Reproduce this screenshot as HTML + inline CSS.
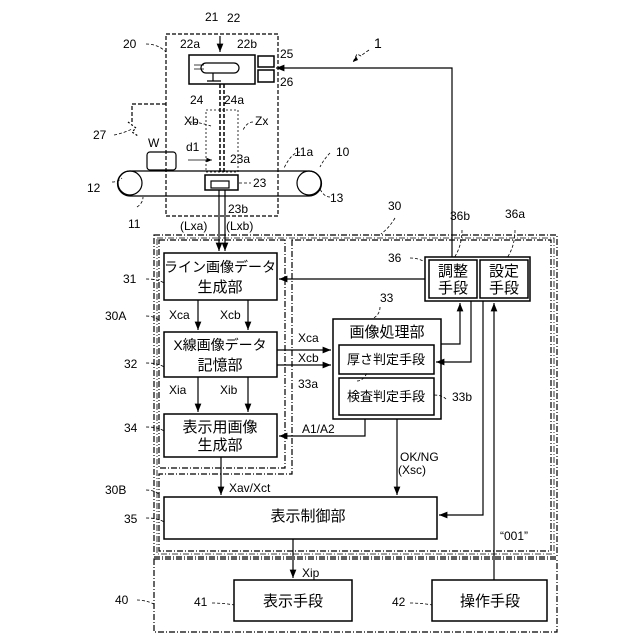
<!DOCTYPE html>
<html><head><meta charset="utf-8"><style>
html,body{margin:0;padding:0;background:#fff}
svg{display:block}
text{font-family:"Liberation Sans","Noto Sans CJK JP",sans-serif;fill:#000}
.j{font-size:15px}
.s{font-size:12px}
</style></head><body>
<svg width="640" height="640" viewBox="0 0 640 640" xmlns="http://www.w3.org/2000/svg">
<defs><marker id="a" viewBox="0 0 10 10" refX="10" refY="5" markerWidth="7" markerHeight="7" orient="auto"><path d="M0,1 L10,5 L0,9 z" fill="#000"/></marker></defs>
<g fill="none" stroke="#000" stroke-width="1.2">
<rect x="166" y="34" width="112" height="182" stroke-dasharray="4,2"/>
<rect x="189" y="55" width="66" height="29" stroke-width="1.5"/>
<path d="M206,63 h28 a5,5 0 0 1 0,10 h-28 a5,5 0 0 1 0,-10z"/>
<path d="M213,73 v8 M207,81 h14" />
<path d="M194,65 h10 M194,69 h10" stroke-width="0.8"/>
<rect x="258" y="56" width="16" height="11" stroke-width="1.5"/>
<rect x="258" y="70" width="16" height="12" stroke-width="1.5"/>
<path d="M220,84 V172 M224,84 V172" stroke-dasharray="4,2" stroke-width="1.5"/>
<rect x="206" y="110" width="32" height="62" stroke-dasharray="2,2" stroke-width="0.8"/>
<path d="M220,36 V52" marker-end="url(#a)"/>
<path d="M452,257 V68 H276" marker-end="url(#a)"/>
<path d="M166,104 H132 V122" stroke-dasharray="4,2"/>
<path d="M128,122 l8,6 l-4,4 l6,4" stroke-dasharray="2,2"/>
<path d="M130,171 H309 A12.5,12.5 0 0 1 309,196 H130 A12.5,12.5 0 0 1 130,171z"/>
<circle cx="130" cy="183" r="12"/>
<circle cx="309" cy="183" r="12"/>
<rect x="147" y="152" width="29" height="18" rx="3"/>
<rect x="205" y="175" width="33" height="15" stroke-width="1.5"/>
<rect x="211" y="181" width="18" height="7"/>
<path d="M188,160 H212" stroke-width="0.8" marker-end="url(#a)"/>
<path d="M219,190 V251" marker-end="url(#a)"/>
<path d="M225,190 V251" marker-end="url(#a)"/>
<rect x="154" y="235" width="403" height="322" stroke-dasharray="6,2,1,2"/>
<rect x="157" y="238" width="397" height="316" stroke-dasharray="6,2,1,2" stroke-width="0.8"/>
<rect x="159" y="240" width="126" height="228" stroke-dasharray="6,2,1,2"/>
<path d="M292,240 V474 H159 V551 H551 V240 Z" stroke-dasharray="6,2,1,2"/>
<rect x="154" y="559" width="403" height="73" stroke-dasharray="6,2,1,2"/>
<rect x="164" y="253" width="113" height="47" stroke-width="1.5"/>
<rect x="164" y="332" width="113" height="45" stroke-width="1.5"/>
<rect x="164" y="414" width="113" height="43" stroke-width="1.5"/>
<rect x="333" y="319" width="108" height="100" stroke-width="1.5"/>
<rect x="339" y="345" width="95" height="29" stroke-width="1.5"/>
<rect x="339" y="378" width="95" height="37" stroke-width="1.5"/>
<rect x="425" y="257" width="105" height="44" stroke-width="1.5"/>
<rect x="429" y="260" width="48" height="38" stroke-width="1.5"/>
<rect x="480" y="260" width="48" height="38" stroke-width="1.5"/>
<rect x="164" y="497" width="273" height="42" stroke-width="1.5"/>
<rect x="234" y="580" width="118" height="41" stroke-width="1.5"/>
<rect x="432" y="580" width="115" height="41" stroke-width="1.5"/>
<path d="M198,300 V330" marker-end="url(#a)"/>
<path d="M248,300 V330" marker-end="url(#a)"/>
<path d="M198,377 V412" marker-end="url(#a)"/>
<path d="M248,377 V412" marker-end="url(#a)"/>
<path d="M277,350 H331" marker-end="url(#a)"/>
<path d="M277,365 H331" marker-end="url(#a)"/>
<path d="M425,279 H279" marker-end="url(#a)"/>
<path d="M441,344 H460 V303" marker-end="url(#a)"/>
<path d="M471,301 V362 H436" marker-end="url(#a)"/>
<path d="M483,301 V515 H439" marker-end="url(#a)"/>
<path d="M494,580 V303" marker-end="url(#a)"/>
<path d="M365,419 V436 H279" marker-end="url(#a)"/>
<path d="M397,419 V495" marker-end="url(#a)"/>
<path d="M221,457 V495" marker-end="url(#a)"/>
<path d="M293,539 V578" marker-end="url(#a)"/>
<path d="M369,50 q-6,4 -8,6 l-4,-2 l-4,8" stroke-width="0.8" stroke-dasharray="3,2"/>
<path d="M353,62 l5,-2 l-2,-4 z" fill="#000" stroke="none"/>
<g stroke-width="0.8" stroke-dasharray="3,2">
<path d="M146,44 q12,0 20,8"/><path d="M146,279 q12,0 18,4"/><path d="M146,316 q8,0 13,4"/>
<path d="M146,363 q12,0 18,4"/><path d="M146,427 q12,0 18,4"/><path d="M146,490 q8,0 13,4"/>
<path d="M146,518 q12,0 18,4"/><path d="M137,600 q8,0 17,4"/>
<path d="M212,603 q12,0 22,2"/><path d="M410,603 q12,0 22,2"/>
<path d="M410,258 q8,0 15,4"/><path d="M357,381 q6,0 10,-8"/><path d="M434,395 q8,0 12,4"/>
<path d="M380,307 q0,8 -8,12"/><path d="M462,230 q0,16 -8,28"/><path d="M515,230 q0,16 -8,28"/>
<path d="M395,218 q-6,10 -14,16"/>
<path d="M239,183 h12"/><path d="M112,182 q6,0 10,-4"/><path d="M137,207 q6,-4 6,-10"/>
<path d="M300,152 q-8,0 -16,16"/><path d="M330,153 q-6,6 -10,14"/><path d="M330,197 q-6,0 -10,-8"/>
<path d="M114,135 q10,-2 18,-6"/><path d="M189,122 q10,0 22,4"/><path d="M253,122 q-6,0 -10,8"/>
</g>
</g>
<g class="s">
<text x="205" y="21">21</text><text x="227" y="22">22</text>
<text x="180" y="48">22a</text><text x="237" y="48">22b</text>
<text x="280" y="58">25</text><text x="280" y="86">26</text>
<text x="190" y="104">24</text><text x="224" y="104">24a</text>
<text x="123" y="48">20</text><text x="374" y="48" font-size="14">1</text>
<text x="184" y="125">Xb</text><text x="255" y="125">Zx</text>
<text x="93" y="139">27</text><text x="148" y="147">W</text>
<text x="186" y="151">d1</text><text x="230" y="163">23a</text>
<text x="294" y="156">11a</text><text x="336" y="156">10</text>
<text x="253" y="187">23</text><text x="87" y="192">12</text><text x="330" y="202">13</text>
<text x="228" y="213">23b</text><text x="128" y="228">11</text>
<text x="180" y="230">(Lxa)</text><text x="226" y="230">(Lxb)</text>
<text x="388" y="210">30</text><text x="450" y="220">36b</text><text x="505" y="218">36a</text>
<text x="388" y="262">36</text><text x="123" y="283">31</text><text x="105" y="320">30A</text>
<text x="380" y="302">33</text><text x="124" y="368">32</text>
<text x="169" y="319">Xca</text><text x="220" y="319">Xcb</text>
<text x="298" y="342">Xca</text><text x="298" y="362">Xcb</text>
<text x="298" y="388">33a</text><text x="452" y="401">33b</text>
<text x="169" y="394">Xia</text><text x="220" y="394">Xib</text>
<text x="124" y="432">34</text><text x="302" y="433">A1/A2</text>
<text x="400" y="461">OK/NG</text><text x="398" y="474">(Xsc)</text>
<text x="105" y="494">30B</text><text x="229" y="492">Xav/Xct</text>
<text x="124" y="523">35</text><text x="500" y="540">“001”</text>
<text x="302" y="577">Xip</text><text x="115" y="604">40</text>
<text x="194" y="606">41</text><text x="392" y="606">42</text>
</g>
<g class="j">
<text x="220" y="272" text-anchor="middle" font-size="14">ライン画像データ</text>
<text x="220" y="292" text-anchor="middle">生成部</text>
<text x="220" y="350" text-anchor="middle" font-size="14">X線画像データ</text>
<text x="220" y="370" text-anchor="middle">記憶部</text>
<text x="220" y="432" text-anchor="middle">表示用画像</text>
<text x="220" y="450" text-anchor="middle">生成部</text>
<text x="387" y="337" text-anchor="middle">画像処理部</text>
<text x="386" y="364" text-anchor="middle" font-size="13">厚さ判定手段</text>
<text x="386" y="401" text-anchor="middle" font-size="13">検査判定手段</text>
<text x="453" y="276" text-anchor="middle">調整</text><text x="453" y="293" text-anchor="middle">手段</text>
<text x="504" y="276" text-anchor="middle">設定</text><text x="504" y="293" text-anchor="middle">手段</text>
<text x="308" y="521" text-anchor="middle">表示制御部</text>
<text x="293" y="606" text-anchor="middle">表示手段</text>
<text x="490" y="606" text-anchor="middle">操作手段</text>
</g>
</svg>
</body></html>
